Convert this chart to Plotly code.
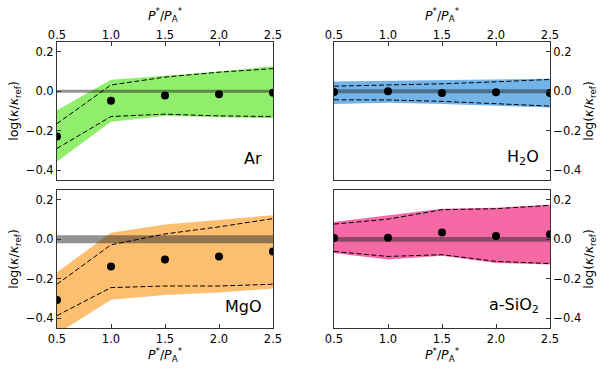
import plotly.graph_objects as go

# pressure ratio P*/P_A*
x_vals = [0.5, 1.0, 1.5, 2.0, 2.5]

# Ar
ar_pts = [-0.229, -0.048, -0.022, -0.015, -0.007]
ar_fill_hi = [-0.096, 0.058, 0.079, 0.100, 0.127]
ar_fill_lo = [-0.356, -0.154, -0.125, -0.130, -0.137]
ar_dash_hi = [-0.164, 0.032, 0.072, 0.097, 0.115]
ar_dash_lo = [-0.290, -0.128, -0.116, -0.125, -0.128]
ar_band = 0.008

# H2O
h2o_pts = [-0.003, 0.0, -0.009, -0.005, -0.009]
h2o_fill_hi = [0.050, 0.053, 0.055, 0.059, 0.063]
h2o_fill_lo = [-0.065, -0.058, -0.065, -0.073, -0.082]
h2o_dash_hi = [0.026, 0.032, 0.038, 0.048, 0.060]
h2o_dash_lo = [-0.043, -0.044, -0.051, -0.062, -0.075]
h2o_band = 0.01

# MgO
mgo_pts = [-0.308, -0.138, -0.102, -0.087, -0.062]
mgo_fill_hi = [-0.167, 0.033, 0.075, 0.097, 0.122]
mgo_fill_lo = [-0.480, -0.307, -0.283, -0.270, -0.250]
mgo_dash_hi = [-0.228, -0.028, 0.027, 0.063, 0.105]
mgo_dash_lo = [-0.387, -0.245, -0.237, -0.237, -0.228]
mgo_band = 0.02

# a-SiO2
sio2_pts = [0.007, 0.008, 0.035, 0.017, 0.025]
sio2_fill_hi = [0.088, 0.122, 0.155, 0.160, 0.175]
sio2_fill_lo = [-0.070, -0.103, -0.083, -0.120, -0.128]
sio2_dash_hi = [0.077, 0.102, 0.150, 0.155, 0.172]
sio2_dash_lo = [-0.062, -0.087, -0.078, -0.112, -0.123]
sio2_band = 0.012

y_ticks = [-0.4, -0.2, 0.0, 0.2]
x_ticks = [0.5, 1.0, 1.5, 2.0, 2.5]

panels = [
    ("Ar", "#90ee6c", ar_pts, ar_fill_hi, ar_fill_lo, ar_dash_hi, ar_dash_lo, ar_band),
    ("H<sub>2</sub>O", "#72b4ea", h2o_pts, h2o_fill_hi, h2o_fill_lo, h2o_dash_hi, h2o_dash_lo, h2o_band),
    ("MgO", "#fcbf70", mgo_pts, mgo_fill_hi, mgo_fill_lo, mgo_dash_hi, mgo_dash_lo, mgo_band),
    ("a-SiO<sub>2</sub>", "#f668a6", sio2_pts, sio2_fill_hi, sio2_fill_lo, sio2_dash_hi, sio2_dash_lo, sio2_band),
]

W, H = 609, 372
left_dom = [57 / W, 273 / W]
right_dom = [334 / W, 550 / W]
top_dom = [1 - 180 / H, 1 - 42 / H]
bot_dom = [1 - 328 / H, 1 - 190 / H]

fig = go.Figure()

for i, (name, color, pts, fhi, flo, dhi, dlo, band) in enumerate(panels):
    xa = "x" if i == 0 else "x%d" % (i + 1)
    ya = "y" if i == 0 else "y%d" % (i + 1)
    # coloured uncertainty region
    fig.add_trace(go.Scatter(x=x_vals, y=flo, mode="lines", line=dict(width=0),
                             xaxis=xa, yaxis=ya, showlegend=False, hoverinfo="skip"))
    fig.add_trace(go.Scatter(x=x_vals, y=fhi, mode="lines", line=dict(width=0),
                             fill="tonexty", fillcolor=color,
                             xaxis=xa, yaxis=ya, showlegend=False, hoverinfo="skip"))
    # grey reference band
    fig.add_trace(go.Scatter(x=[x_vals[0], x_vals[-1]], y=[-band, -band], mode="lines",
                             line=dict(width=0), xaxis=xa, yaxis=ya,
                             showlegend=False, hoverinfo="skip"))
    fig.add_trace(go.Scatter(x=[x_vals[0], x_vals[-1]], y=[band, band], mode="lines",
                             line=dict(width=0), fill="tonexty",
                             fillcolor="rgba(40,40,40,0.5)",
                             xaxis=xa, yaxis=ya, showlegend=False, hoverinfo="skip"))
    # dashed bounds
    for d in (dhi, dlo):
        fig.add_trace(go.Scatter(x=x_vals, y=d, mode="lines",
                                 line=dict(color="black", width=1, dash="5px,2.5px"),
                                 xaxis=xa, yaxis=ya, showlegend=False))
    fig.add_trace(go.Scatter(x=x_vals, y=pts, mode="markers",
                             marker=dict(color="black", size=8),
                             xaxis=xa, yaxis=ya, showlegend=False))
    fig.add_annotation(text=name, xref=xa + " domain", yref=ya + " domain",
                       x=0.96, y=0.07, xanchor="right", yanchor="bottom",
                       showarrow=False, font=dict(size=16, color="black"))

x_title = "<i>P</i><sup>*</sup>/<i>P</i><sub>A</sub><sup>*</sup>"
y_title = "log(<i>κ</i>/<i>κ</i><sub>ref</sub>)"

axis_common = dict(showline=True, linecolor="#333", linewidth=1, mirror=True,
                   ticks="inside", ticklen=4, tickcolor="#333", showgrid=False,
                   zeroline=False, automargin=False,
                   tickfont=dict(size=11.5, color="black"))

x_common = dict(axis_common, range=[0.5, 2.5], tickvals=x_ticks, tickformat=".1f")
y_common = dict(axis_common, range=[-0.45, 0.25], tickvals=y_ticks, tickformat=".1f",
                title=dict(text=y_title, font=dict(size=12.5), standoff=4))
x_top = dict(x_common, side="top", ticklabelstandoff=-3,
             title=dict(text=x_title, font=dict(size=12.5), standoff=5))
x_bot = dict(x_common, side="bottom",
             title=dict(text=x_title, font=dict(size=12.5), standoff=3))

fig.update_layout(
    width=W, height=H,
    margin=dict(l=0, r=0, t=0, b=0),
    paper_bgcolor="white", plot_bgcolor="white",
    font=dict(family="DejaVu Sans", color="black"),
    xaxis=dict(x_top, domain=left_dom, anchor="y"),
    yaxis=dict(y_common, domain=top_dom, side="left", anchor="x"),
    xaxis2=dict(x_top, domain=right_dom, anchor="y2"),
    yaxis2=dict(y_common, domain=top_dom, side="right", anchor="x2"),
    xaxis3=dict(x_bot, domain=left_dom, anchor="y3"),
    yaxis3=dict(y_common, domain=bot_dom, side="left", anchor="x3"),
    xaxis4=dict(x_bot, domain=right_dom, anchor="y4"),
    yaxis4=dict(y_common, domain=bot_dom, side="right", anchor="x4"),
)

# drop the default page margin so the figure sits at the window corner
fig.write_html("out.html", config={"displayModeBar": False},
               post_script="document.body.style.margin='0';")
